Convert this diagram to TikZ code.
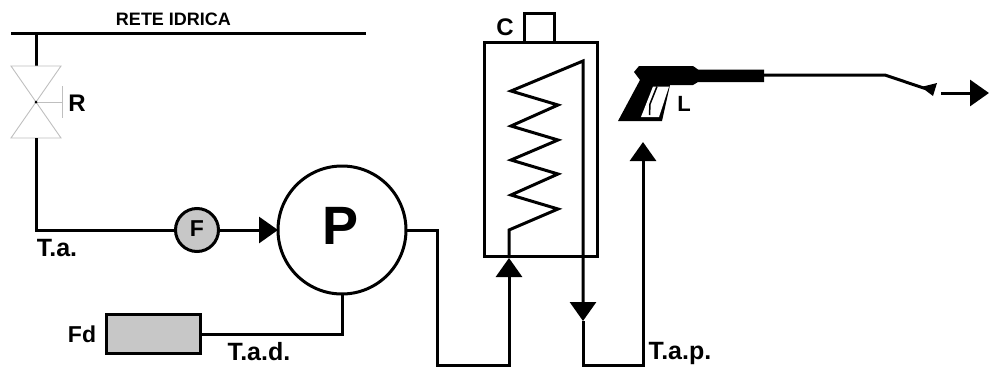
\documentclass[tikz,border=0pt]{standalone}
\usepackage{fontspec}
\setmainfont{Liberation Sans}
\usetikzlibrary{arrows.meta}
\newcommand\lab[1]{\fontsize{#1}{#1}\selectfont\bfseries}
\tikzset{
    pipe/.style={line width=3pt,line join=miter},
    tip/.style={-{Triangle[length=19pt,width=26pt]}},
    thin line/.style={draw=black!25,line width=0.9pt},
    txt/.style={inner sep=0pt,outer sep=0pt},
    vessel/.style={draw=black,line width=3pt,inner sep=0pt,outer sep=0pt},
}
\begin{document}
\begin{tikzpicture}[x=1pt,y=-1pt]
        \useasboundingbox (0,0) rectangle (989,370);
        \coordinate (mainL) at (11,33.5);
        \coordinate (mainR) at (366,33.5);
        \coordinate (mainT) at (36,33.5);
        \coordinate (valveT) at (36,66);
        \coordinate (valveC) at (36,102);
        \coordinate (valveB) at (36,138);
        \coordinate (corner) at (36,230);
        \coordinate (armT) at (62,86);
        \coordinate (armC) at (62,102);
        \coordinate (armB) at (62,118);
        \coordinate (pumpIn) at (259,230);
        \coordinate (fdBend) at (342,334);
        \coordinate (outA) at (437,230);
        \coordinate (outB) at (437,365);
        \coordinate (outC) at (509,365);
        \coordinate (boilIn) at (509,276);
        \coordinate (boilTip) at (509,258);
        \coordinate (coilBase) at (509,230);
        \coordinate (coilTop) at (583,61);
        \coordinate (downArrow) at (583,303);
        \coordinate (downTip) at (583,321);
        \coordinate (tapA) at (583,365);
        \coordinate (tapB) at (643,365);
        \coordinate (tapC) at (643,160);
        \coordinate (tapTip) at (643,142);
        \coordinate (lanceA) at (764,75);
        \coordinate (lanceB) at (885,75);
        \coordinate (lanceC) at (925,88.5);
        \coordinate (jetA) at (941,93);
        \coordinate (jetB) at (971,93);
        \coordinate (jetTip) at (989,93);
        \node[vessel,circle,minimum size=128pt] (pump) at (342,230) {};
        \node[vessel,circle,minimum size=43pt,fill=black!22] (filter) at (197,230) {};
        \node[vessel,minimum width=94pt,minimum height=39pt,fill=black!22] (tank) at (153,334) {};
        \node[vessel,minimum width=113pt,minimum height=214pt] (boiler) at (540.5,149) {};
        \node[vessel,minimum width=30pt,minimum height=29pt] (cap) at (539,27.5) {};
        \draw[pipe] (mainL) -- (mainR);
        \draw[pipe] (mainT) -- (valveT);
        \draw[thin line] (11,66) -- (61,66) -- (valveC) -- (11,138) -- (61,138) -- (valveC) -- cycle;
        \draw[thin line] (valveC) -- (armC);
        \draw[thin line] (armT) -- (armB);
        \fill (valveC) circle (1.5pt);
        \draw[pipe] (valveB) -- (corner) -- (filter);
        \draw[pipe] (filter) -- (pumpIn);
        \draw[pipe,tip] (pumpIn) -- (pump.west);
        \draw[pipe] (pump.south) -- (fdBend) -- (tank.east);
        \draw[pipe] (pump.east) -- (outA) -- (outB) -- (outC) -- (boilIn);
        \draw[pipe,tip] (boilIn) -- (boilTip);
        \draw[pipe] (boilTip) -- (coilBase) -- (558,209) -- (511,195) -- (558,174) -- (511,160) -- (558,140) -- (511,126) -- (558,105) -- (511,91) -- (coilTop) -- (downArrow);
        \draw[pipe,tip] (downArrow) -- (downTip);
        \draw[pipe] (downTip) -- (tapA) -- (tapB) -- (tapC);
        \draw[pipe,tip] (tapC) -- (tapTip);
        \fill (634,72) -- (639,66) -- (693,66) -- (698,69.5) -- (764,69.5) -- (764,82) -- (698,82) -- (693,85) -- (670,85) -- (662,121) -- (618,121) -- (640,80) -- cycle;
        \fill[white] (653,86.5) -- (669,86.5) -- (659,117) -- (641,117) -- cycle;
        \draw[line width=1.5pt] (657,86.5) -- (650,104) -- (649.5,115);
        \draw[pipe] (lanceA) -- (lanceB) -- (lanceC);
        \fill (921,87) -- (937,83) -- (933,96) -- cycle;
        \draw[pipe] (jetA) -- (jetB);
        \draw[pipe,tip] (jetB) -- (jetTip);
        \node[txt] (mainlab) at (173.5,19) {\lab{18}RETE IDRICA};
        \node[txt] (Rlab) at (77,103) {\lab{24}R};
        \node[txt] (Flab) at (197,229) {\lab{23}F};
        \node[txt] (Plab) at (341,226) {\lab{54}P};
        \node[txt] (Talab) at (57,248) {\lab{25}T.a.};
        \node[txt] (Fdlab) at (82,334) {\lab{23}Fd};
        \node[txt] (Tadlab) at (259,352) {\lab{25}T.a.d.};
        \node[txt] (Clab) at (505,27) {\lab{24}C};
        \node[txt] (Llab) at (684,104) {\lab{22}L};
        \node[txt] (Taplab) at (680,353) {\lab{25}T.a.p.};
\end{tikzpicture}
\end{document}
